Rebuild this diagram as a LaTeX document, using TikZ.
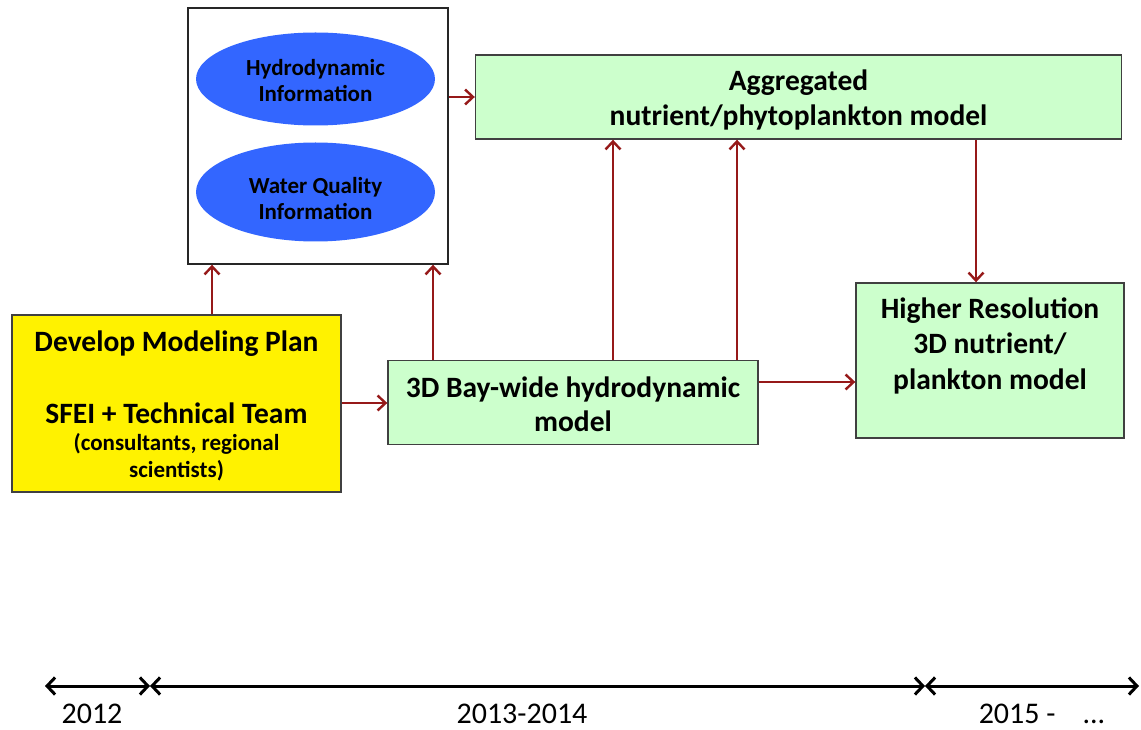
\documentclass[tikz,border=0pt]{standalone}
\usepackage{fontspec}
\setmainfont{Carlito}
\usetikzlibrary{shapes.geometric,arrows.meta}
\definecolor{arrred}{RGB}{150,25,25}
\definecolor{boxgreen}{RGB}{204,255,204}
\definecolor{ellblue}{RGB}{51,102,255}
\tikzset{
  gbox/.style={draw=black!75,line width=1.4pt,fill=boxgreen,inner sep=0pt,align=center},
  gtext/.style={align=center,font=\bfseries\fontsize{29.5}{35}\selectfont},
  ell/.style={ellipse,fill=ellblue,inner sep=0pt},
  etext/.style={align=center,font=\bfseries\fontsize{23}{26}\selectfont},
  rarrow/.style={draw=arrred,line width=2.4pt,-{Straight Barb[length=8pt,width=15pt]}},
  tarrow/.style={draw=black,line width=3pt,{Straight Barb[length=8pt,width=17pt]}-{Straight Barb[length=8pt,width=17pt]}},
  ylabel/.style={font=\fontsize{30}{34}\selectfont}
}
\begin{document}
\begin{tikzpicture}[x=1pt,y=-1pt]
\useasboundingbox (0,0) rectangle (1141,730);
% info box
\node[draw=black!85,line width=1.4pt,minimum width=260pt,minimum height=256pt,inner sep=0pt] (info) at (318,136) {};
\node[ell,minimum width=239pt,minimum height=93pt] (hydro) at (315.5,79) {};
\node[etext] (hydrot) at (315.5,81) {Hydrodynamic\\Information};
\node[ell,minimum width=239pt,minimum height=99pt] (wq) at (315.5,192) {};
\node[etext] (wqt) at (315.5,199) {Water Quality\\Information};
% aggregated
\node[gbox,minimum width=646pt,minimum height=84pt] (agg) at (798.5,97) {};
\node[gtext] (aggt) at (798.5,100) {Aggregated\\nutrient/phytoplankton model};
% yellow
\node[draw=black!75,line width=1.4pt,fill=yellow,minimum width=329pt,minimum height=177pt,inner sep=0pt] (plan) at (176.5,403.5) {};
\node[font=\bfseries\fontsize{29.5}{34}\selectfont] (plant) at (176.5,344) {Develop Modeling Plan};
\node[font=\bfseries\fontsize{29.5}{34}\selectfont] (sfei) at (176.5,413) {SFEI + Technical Team};
\node[font=\bfseries\fontsize{23}{27}\selectfont,align=center] (cons) at (176.5,457) {(consultants, regional\\scientists)};
% bay
\node[gbox,minimum width=370pt,minimum height=84pt] (bay) at (573,402.5) {};
\node[gtext,font=\bfseries\fontsize{29.5}{34}\selectfont] (bayt) at (573,404) {3D Bay-wide hydrodynamic\\model};
% higher res
\node[gbox,minimum width=268pt,minimum height=155pt] (hr) at (990,360.5) {};
\node[gtext,font=\bfseries\fontsize{29.5}{35.5}\selectfont] (hrt) at (990,345.5) {Higher Resolution\\3D nutrient/\\plankton model};
% red arrows
\draw[rarrow] (plan.north -| 212,0) -- (info.south -| 212,0);
\draw[rarrow] (bay.north -| 433,0) -- (info.south -| 433,0);
\draw[rarrow] (bay.north -| 613,0) -- (agg.south -| 613,0);
\draw[rarrow] (bay.north -| 737,0) -- (agg.south -| 737,0);
\draw[rarrow] (info.east |- 0,97) -- (agg.west |- 0,97);
\draw[rarrow] (plan.east |- 0,403) -- (bay.west |- 0,403);
\draw[rarrow] (bay.east |- 0,382) -- (hr.west |- 0,382);
\draw[rarrow] (agg.south -| 976,0) -- (hr.north -| 976,0);
% timeline
\coordinate (t0) at (45,686);
\coordinate (t1) at (150,686);
\coordinate (t2) at (925,686);
\coordinate (t3) at (1139,686);
\draw[tarrow] (t0) -- (t1);
\draw[tarrow] (t1) -- (t2);
\draw[tarrow] (t2) -- (t3);
\node[ylabel] (l1) at (92,714) {2012};
\node[ylabel] (l2) at (522,714) {2013-2014};
\node[ylabel] (l3) at (1042,714) {2015 -\hspace{0.9em}...};
\end{tikzpicture}
\end{document}
